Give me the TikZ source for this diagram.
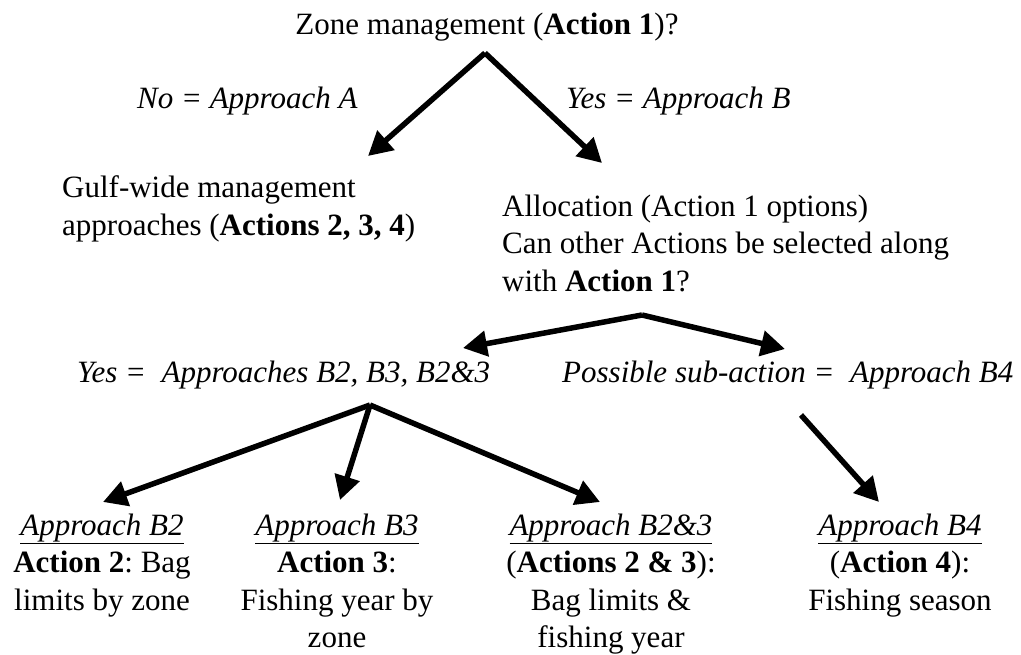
\documentclass[tikz,border=0pt]{standalone}
\usepackage{fontspec}
\setmainfont{Liberation Serif}
\usetikzlibrary{arrows.meta}
\frenchspacing

\begin{document}
\begin{tikzpicture}[
  x=1pt, y=-1pt,
  every node/.style={font=\fontsize{31}{37.5}\selectfont, inner sep=0pt},
  txt/.style={anchor=base west, align=left},
  leaf/.style={anchor=base, align=center},
  arrow/.style={-{Triangle[length=24pt,width=25pt]}, line width=5.5pt}
]
  \useasboundingbox (0,0) rectangle (1021,654);
  % question and first answers (base = baseline of last line)
  \node[anchor=base] (zone) at (487,34) {Zone management (\textbf{Action 1})?};
  \node[txt] (noA) at (137,108) {\textit{No = Approach A}};
  \node[txt] (yesB) at (566,108) {\textit{Yes = Approach B}};
  \node[txt] (gulf) at (62,235) {Gulf-wide management\\approaches (\textbf{Actions 2, 3, 4})};
  \node[txt] (alloc) at (502,291) {Allocation (Action 1 options)\\Can other Actions be selected along\\with \textbf{Action 1}?};
  % second answers
  \node[txt] (yesB23) at (77,382) {\textit{Yes = \ Approaches B2, B3, B2\&3}};
  \node[txt] (subB4) at (562,382) {\textit{Possible sub-action = \ Approach B4}};
  % approaches
  \node[leaf] (bII) at (102,610) {\underline{\textit{Approach B2}}\\\textbf{Action 2}: Bag\\limits by zone};
  \node[leaf] (bIII) at (337,647.5) {\underline{\textit{Approach B3}}\\\textbf{Action 3}:\\Fishing year by\\zone};
  \node[leaf] (bIIandIII) at (611,647.5) {\underline{\textit{Approach B2\&3}}\\(\textbf{Actions 2 \& 3}):\\Bag limits \&\\fishing year};
  \node[leaf] (bIV) at (900,610) {\underline{\textit{Approach B4}}\\(\textbf{Action 4}):\\Fishing season};
  % arrow ends
  \coordinate (zone split) at (485,53);
  \coordinate (gulf tip) at (368,156);
  \coordinate (alloc tip) at (602,163);
  \coordinate (alloc split) at (642,315);
  \coordinate (yes tip) at (463,348);
  \coordinate (sub tip) at (785,349);
  \coordinate (yes split) at (370,405);
  \coordinate (bII tip) at (103,502);
  \coordinate (bIII tip) at (340,500);
  \coordinate (bIIandIII tip) at (600,502);
  \coordinate (sub start) at (801,415);
  \coordinate (bIV tip) at (879,502);
  \draw[arrow] (zone split) -- (gulf tip);
  \draw[arrow] (zone split) -- (alloc tip);
  \draw[arrow] (alloc split) -- (yes tip);
  \draw[arrow] (alloc split) -- (sub tip);
  \draw[arrow] (yes split) -- (bII tip);
  \draw[arrow] (yes split) -- (bIII tip);
  \draw[arrow] (yes split) -- (bIIandIII tip);
  \draw[arrow] (sub start) -- (bIV tip);
\end{tikzpicture}
\end{document}
